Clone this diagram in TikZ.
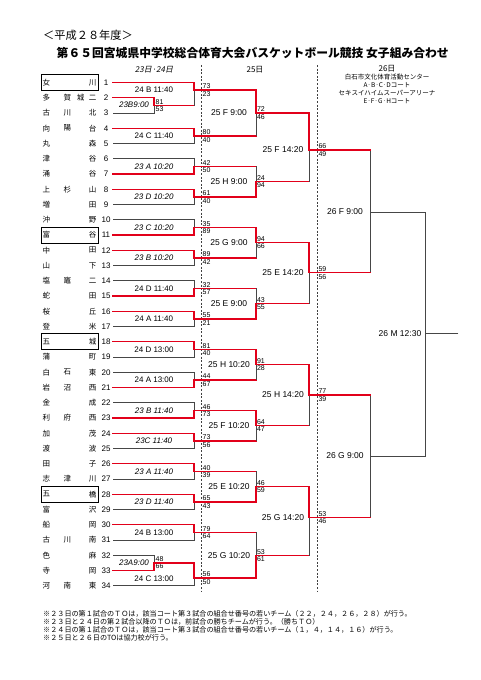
\documentclass[tikz,border=0pt]{standalone}
\usepackage{fontspec}
\setmainfont{Liberation Sans}
\newfontfamily\jpfont{Noto Sans CJK JP}
\newfontfamily\jpslant{Noto Sans CJK JP}[FakeSlant=0.2]
\usetikzlibrary{positioning}
\definecolor{winred}{RGB}{226,0,26}
\definecolor{linegrey}{RGB}{70,70,70}
\newcommand{\ry}[1]{82.5+(#1-1)*15.25}

\begin{document}
\begin{tikzpicture}[x=1pt, y=-1pt,
    teamch/.style={font=\jpfont\fontsize{7.5}{8}\selectfont, inner sep=0pt},
    num/.style={font=\fontsize{8}{8}\selectfont, inner sep=0pt},
    game/.style={font=\fontsize{8}{8}\selectfont, inner sep=0pt},
    igame/.style={font=\itshape\fontsize{8}{8}\selectfont, inner sep=0pt},
    late/.style={font=\fontsize{8.5}{9}\selectfont, inner sep=0pt},
    score/.style={font=\fontsize{7}{7}\selectfont, inner sep=0pt},
    won/.style={draw=winred, line width=1.3pt, line cap=rect},
    lost/.style={draw=linegrey, line width=0.9pt, line cap=rect},
    seed/.style={draw=black, line width=0.8pt, minimum width=57pt, minimum height=16pt, inner sep=0pt},
    daysep/.style={draw=black!75, line width=0.9pt, dash pattern=on 2pt off 1.6pt},
    note/.style={font=\jpfont\fontsize{7.1}{8}\selectfont, anchor=west, inner sep=0pt}
]
\useasboundingbox (0,0) rectangle (481,680);

% titles and days
\node[font=\jpfont\fontsize{11.2}{12}\selectfont, anchor=west, inner sep=0pt] (year) at (43,35) {＜平成２８年度＞};
\node[font=\jpfont\bfseries\fontsize{11.8}{12}\selectfont, anchor=west, inner sep=0pt] (title) at (56.5,53.3)
    {第６５回宮城県中学校総合体育大会バスケットボール競技 女子組み合わせ};
\node[font=\jpslant\fontsize{8}{8}\selectfont, inner sep=0pt] (day1) at (154,70) {23日·24日};
\node[font=\jpfont\fontsize{8}{8}\selectfont, inner sep=0pt] (day2) at (255,69.5) {25日};
\node[font=\jpfont\fontsize{8}{8}\selectfont, inner sep=0pt] (day3) at (387,68.5) {26日};
\node[font=\jpfont\fontsize{6.5}{8.1}\selectfont, align=center, anchor=north, inner sep=0pt] (venue) at (387,74)
    {白石市文化体育活動センター\\A·B·C·Dコート\\セキスイハイムスーパーアリーナ\\E·F·G·Hコート};
\draw[daysep] (201,65) -- (201,591);
\draw[daysep] (317,65) -- (317,591);

% teams
\foreach \n/\fa/\fb/\fc in {1/女/{}/川, 2/多/賀/二, 3/古/川/北, 4/向/陽/台, 5/丸/{}/森,
    6/津/{}/谷, 7/涌/{}/谷, 8/上/杉/山, 9/増/{}/田, 10/沖/{}/野, 11/富/{}/谷, 12/中/{}/田,
    13/山/{}/下, 14/塩/竈/二, 15/蛇/{}/田, 16/桜/{}/丘, 17/登/{}/米, 18/五/{}/城, 19/蒲/{}/町,
    20/白/石/東, 21/岩/沼/西, 22/金/{}/成, 23/利/府/西, 24/加/{}/茂, 25/渡/{}/波, 26/田/{}/子,
    27/志/津/川, 28/五/{}/橋, 29/富/{}/沢, 30/船/{}/岡, 31/古/川/南, 32/色/{}/麻, 33/寺/{}/岡,
    34/河/南/東}{
  \node[teamch] (ta\n) at (46.3,{\ry{\n}}) {\fa};
  \node[teamch] (tb\n) at (67.3,{\ry{\n}}) {\fb};
  \node[teamch] (tc\n) at (92.7,{\ry{\n}}) {\fc};
  \node[num] (tn\n) at (106,{\ry{\n}}) {\n};
}
\node[teamch] (tx2) at (80.7,{\ry{2}}) {城};
\foreach \n in {1,11,18,28}
  \node[seed] (seed\n) at (69.5,{\ry{\n}}) {};

% 23/24: first games
\coordinate (pre1) at (154,105.2);
\draw[lost] (113,{\ry{3}}) -| (pre1);
\draw[won] (113,{\ry{2}}) -| (pre1);
\node[igame] (g0) at (134,105) {23B9:00};
\node[score, above right=0.8pt and 1.5pt of pre1] (sa0) {81};
\node[score, below right=1pt and 1.5pt of pre1] (sb0) {53};
\coordinate (a1) at (194,{\ry{1}+7.625});
\draw[won] (pre1) -- (pre1 -| a1);
\draw[lost] (pre1 -| a1) -- (a1);
\draw[won] (113,{\ry{1}}) -| (a1);
\node[game] (g1) at (154,89.6) {24 B 11:40};
\node[score, above right=1pt and 8.5pt of a1] (sa1) {73};
\node[score, below right=1.2pt and 8.5pt of a1] (sb1) {23};

\foreach \rw/\lab/\st/\sa/\sb/\up/\dn in {4/24 C 11:40/game/80/40/won/lost,
    6/23 A 10:20/igame/42/50/lost/won, 8/23 D 10:20/igame/61/40/won/lost,
    10/23 C 10:20/igame/35/89/lost/won, 12/23 B 10:20/igame/89/42/won/lost,
    14/24 D 11:40/game/32/57/lost/won, 16/24 A 11:40/game/55/21/won/lost,
    18/24 D 13:00/game/81/40/won/lost, 20/24 A 13:00/game/44/67/lost/won,
    22/23 B 11:40/igame/46/73/lost/won, 24/23C 11:40/igame/73/56/won/lost,
    26/23 A 11:40/igame/40/39/won/lost, 28/23 D 11:40/igame/65/43/won/lost,
    30/24 B 13:00/game/79/64/won/lost}{
  \pgfmathtruncatemacro\i{\rw/2}
  \coordinate (a\i) at (194,{\ry{\rw}+7.625});
  \draw[\dn] (113,{\ry{\rw}+15.25}) -| (a\i);
  \draw[\up] (113,{\ry{\rw}}) -| (a\i);
  \node[\st] (g\i) at (154,{\ry{\rw}+7.625}) {\lab};
  \node[score, above right=1pt and 8.5pt of a\i] (sa\i) {\sa};
  \node[score, below right=1.2pt and 8.5pt of a\i] (sb\i) {\sb};
}

\coordinate (pre2) at (154,{\ry{32}+7.625});
\draw[lost] (113,{\ry{32}}) -| (pre2);
\draw[won] (113,{\ry{33}}) -| (pre2);
\node[igame] (g17) at (134,{\ry{32}+7.625}) {23A9:00};
\node[score, above right=0.8pt and 1.5pt of pre2] (sa17) {48};
\node[score, below right=1pt and 1.5pt of pre2] (sb17) {66};
\coordinate (a16) at (194,{\ry{33}+7.625});
\draw[lost] (113,{\ry{34}}) -| (a16);
\draw[won] (pre2) -| (a16);
\node[game] (g16) at (154,{\ry{33}+8.2}) {24 C 13:00};
\node[score, above right=1pt and 8.5pt of a16] (sa16) {56};
\node[score, below right=1.2pt and 8.5pt of a16] (sb16) {50};

% 25: morning
\foreach \j/\p/\lab/\sa/\sb/\up/\dn in {1/113/25 F 9:00/72/46/won/lost,
    2/181.6/25 H 9:00/24/94/lost/won, 3/242.6/25 G 9:00/94/66/won/lost,
    4/303.6/25 E 9:00/43/55/lost/won, 5/364.6/25 H 10:20/91/28/won/lost,
    6/425.6/25 F 10:20/64/47/won/lost, 7/486.6/25 E 10:20/46/59/lost/won,
    8/555.3/25 G 10:20/53/61/lost/won}{
  \pgfmathtruncatemacro\ia{2*\j-1}
  \pgfmathtruncatemacro\ib{2*\j}
  \coordinate (b\j) at (256,\p);
  \draw[won] (a\ia) -- (a\ia -| b\j);
  \draw[won] (a\ib) -- (a\ib -| b\j);
  \draw[\up] (a\ia -| b\j) -- (b\j);
  \draw[\dn] (a\ib -| b\j) -- (b\j);
  \node[late] (h\j) at (229,\p) {\lab};
  \node[score, above right=1pt and 0.8pt of b\j] (ra\j) {\sa};
  \node[score, below right=1.2pt and 0.8pt of b\j] (rb\j) {\sb};
}

% 25: afternoon
\foreach \k/\q/\lab/\sa/\sb in {1/150/25 F 14:20/66/49, 2/272.8/25 E 14:20/59/56,
    3/395/25 H 14:20/77/39, 4/517.5/25 G 14:20/53/46}{
  \pgfmathtruncatemacro\ia{2*\k-1}
  \pgfmathtruncatemacro\ib{2*\k}
  \coordinate (c\k) at (309,\q);
  \draw[won] (b\ib) -- (b\ib -| c\k);
  \draw[lost] (b\ib -| c\k) -- (c\k);
  \draw[won] (b\ia) -| (c\k);
  \node[late] (m\k) at (283,\q) {\lab};
  \node[score, above right=1pt and 9.3pt of c\k] (qa\k) {\sa};
  \node[score, below right=1.2pt and 9.3pt of c\k] (qb\k) {\sb};
}

% 26
\coordinate (d1) at (370.7,212);
\coordinate (d2) at (370.7,456);
\coordinate (fin) at (425,333.7);
\coordinate (out) at (458,333.7);
\draw[lost] (c1 -| d1) -- (c2 -| d1);
\draw[lost] (c3 -| d2) -- (c4 -| d2);
\foreach \k/\d in {1/d1, 2/d1, 3/d2, 4/d2}
  \draw[won] (c\k) -- (c\k -| \d);
\draw[lost] (d1) -| (fin);
\draw[lost] (d2) -| (fin);
\draw[lost] (fin) -- (out);
\node[late] (s1) at (345,212) {26 F 9:00};
\node[late] (s2) at (345,456) {26 G 9:00};
\node[late] (fl) at (400,333.7) {26 M 12:30};

% notes
\node[note] (fn1) at (43,614.3) {※２３日の第１試合のＴＯは，該当コート第３試合の組合せ番号の若いチーム（２２，２４，２６，２８）が行う。};
\node[note] (fn2) at (43,622.1) {※２３日と２４日の第２試合以降のＴＯは，前試合の勝ちチームが行う。（勝ちＴＯ）};
\node[note] (fn3) at (43,629.9) {※２４日の第１試合のＴＯは，該当コート第３試合の組合せ番号の若いチーム（１，４，１４，１６）が行う。};
\node[note] (fn4) at (43,637.5) {※２５日と２６日のTOは協力校が行う。};
\end{tikzpicture}
\end{document}
